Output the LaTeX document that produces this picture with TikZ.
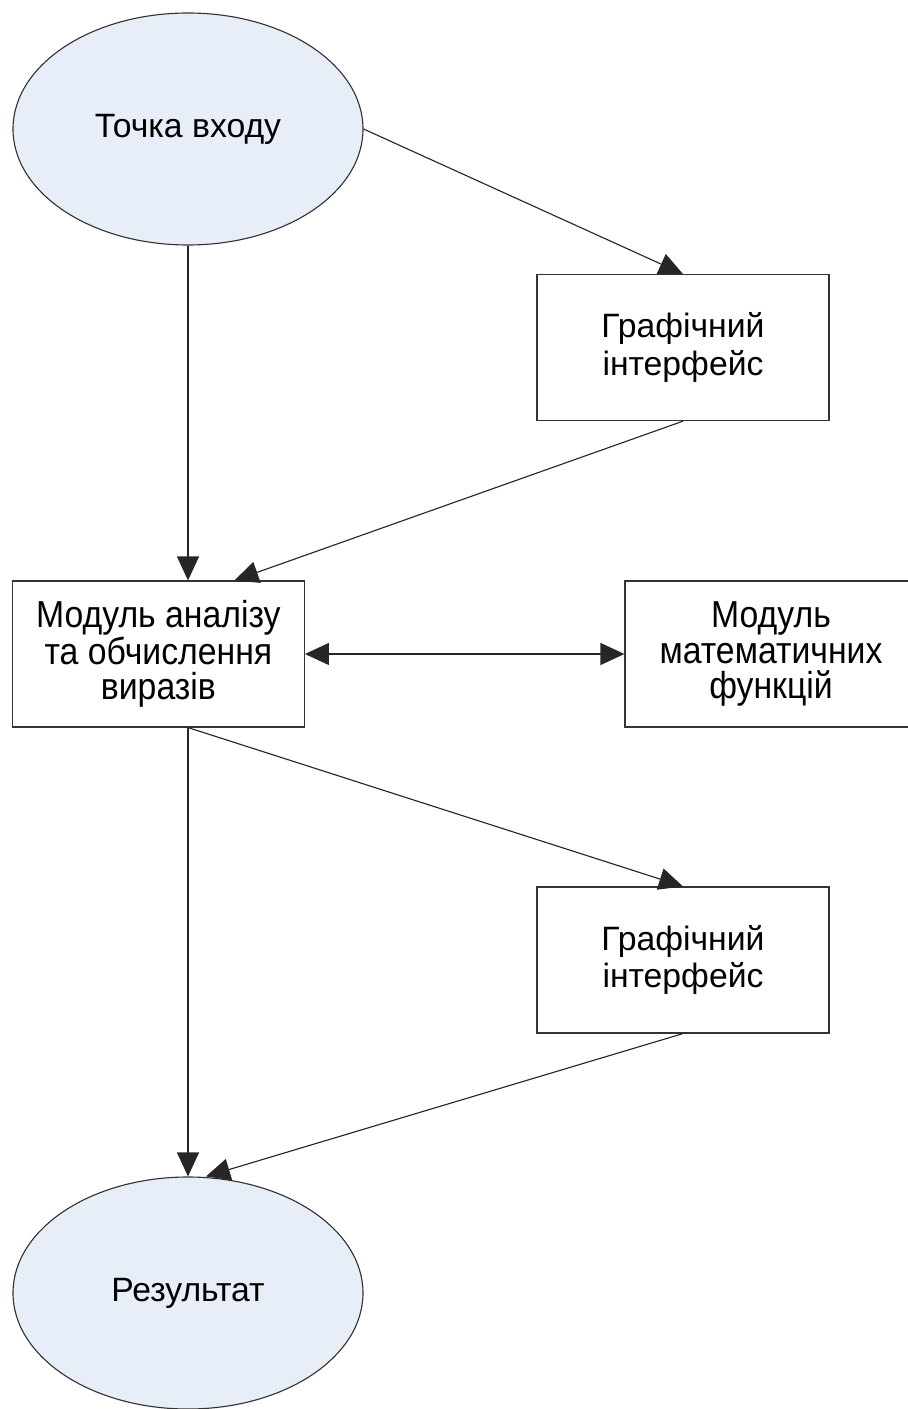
\documentclass[tikz,border=0pt]{standalone}
\usepackage{fontspec}
\setmainfont{Liberation Sans}
\newfontfamily\narrowfont{Liberation Sans}[FakeStretch=0.9]
\usetikzlibrary{shapes.geometric}
\usetikzlibrary{arrows.meta}
\definecolor{ovalfill}{RGB}{232,238,248}

\begin{document}
\begin{tikzpicture}[
    font=\fontsize{24}{26.5}\selectfont,
    oval/.style={ellipse, draw=black!80, line width=0.8pt, fill=ovalfill,
      minimum width=8.75cm, minimum height=5.8cm, inner sep=0pt},
    block/.style={rectangle, draw=black!80, line width=0.8pt, fill=white,
      minimum width=7.3cm, minimum height=3.65cm, align=center, inner sep=0pt},
    midblock/.style={block, font=\narrowfont\fontsize{26.7}{25}\selectfont},
    link/.style={draw=black!85, line width=0.8pt,
      -{Triangle[length=0.6cm,width=0.55cm]}},
    twolink/.style={link,
      {Triangle[length=0.6cm,width=0.55cm]}-{Triangle[length=0.6cm,width=0.55cm]}}
  ]
    % page size
    \useasboundingbox (0,0) rectangle (22.7,-35.225);
    \clip (0,0) rectangle (22.7,-35.225);

    % draw start and end
    \node[oval] (entry) at (4.7,-3.225) {Точка входу};
    \node[oval] (res) at (4.7,-32.325) {Результат};

    % draw modules
    \node[block] (gui1) at (17.075,-8.69) {Графічний\\інтерфейс};
    \node[midblock] (mod) at (3.96,-16.35) {Модуль аналізу\\та обчислення\\виразів};
    \node[midblock] (math) at (19.275,-16.35) {Модуль\\математичних\\функцій};
    \node[block] (gui2) at (17.075,-24.0) {Графічний\\інтерфейс};

    % draw links
    \draw[link] (entry.east) -- (gui1.north);
    \draw[link] (entry.south) -- (entry.south |- mod.north);
    \draw[link] (gui1.south) -- ([xshift=1.9cm]mod.north);
    \draw[twolink] (mod.east) -- (math.west);
    \draw[link] (res.north |- mod.south) -- (res.north);
    \draw[link] (res.north |- mod.south) -- (gui2.north);
    \draw[link] (gui2.south) -- ([xshift=0.45cm]res.north);
  \end{tikzpicture}
\end{document}
